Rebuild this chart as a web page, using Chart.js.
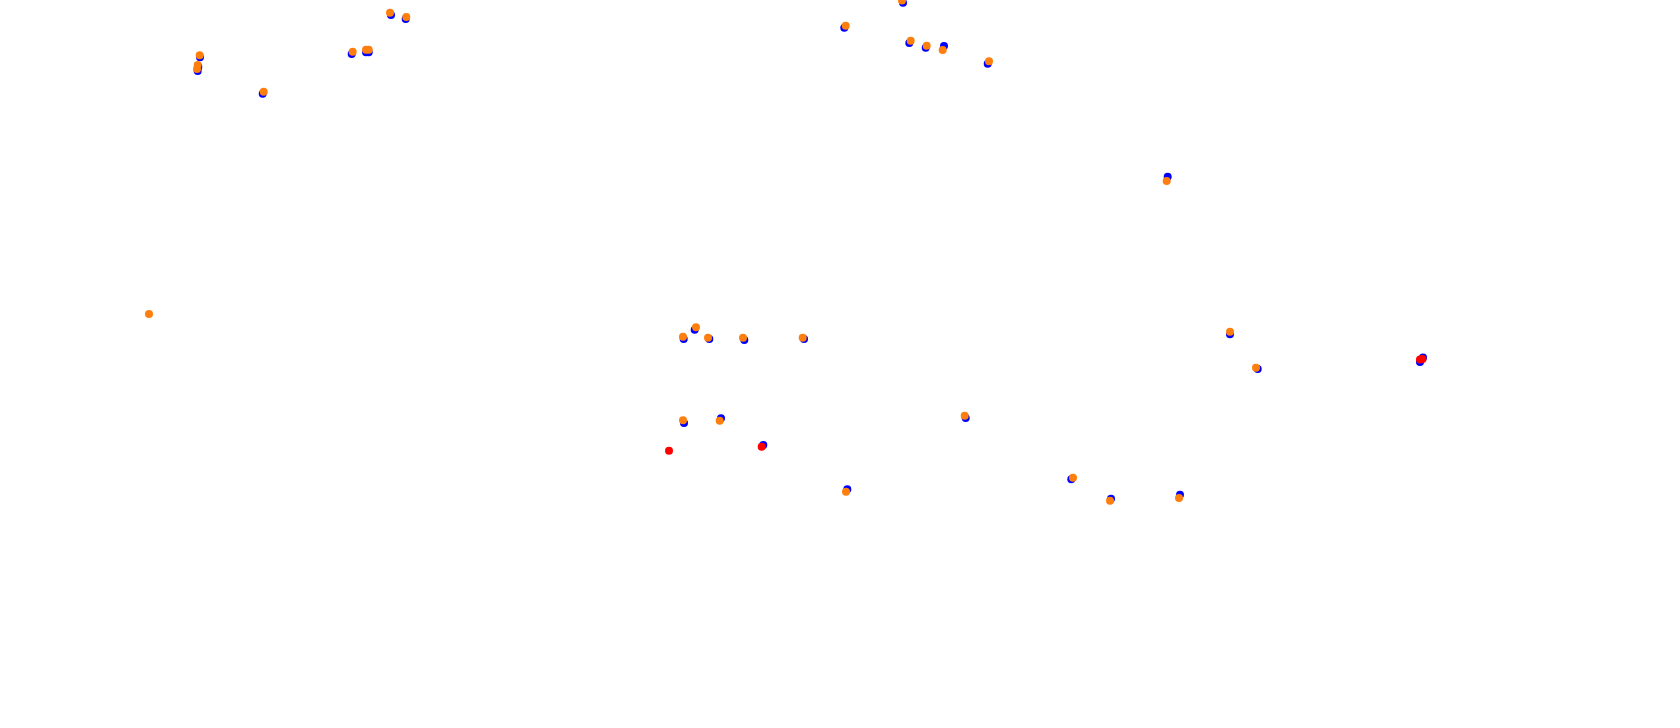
<!DOCTYPE html>
<html>
<head>
<meta charset="utf-8">
<script src="https://cdn.jsdelivr.net/npm/chart.js@4/dist/chart.umd.min.js"></script>
<style>
html,body{margin:0;padding:0;background:#fff;}
#wrap{width:1680px;height:728px;position:relative;}
</style>
</head>
<body>
<div id="wrap"><canvas id="c"></canvas></div>
<script>
const blueX = [200,198.3,197.7,262.7,351.7,366,368.7,391,405.7,903,844.3,909.3,925.7,944,987.7,683.7,694.7,709.3,744.3,804,684,721,763.3,1167.7,1230,1257.7,1423,1420,965.7,847.3,1071.3,1111,1180];
const blueY = [57.3,66.7,71,93.7,54,52.3,52.3,15,19,2.7,27.7,43,47.7,46,63.7,339,329.7,339,340,339,423,418.3,445,176.7,334.3,369,357.5,362,418,489.3,479.3,498.7,494.7];
const orangeX = [199.7,197.7,197,263.7,352.7,366,368.7,390,406.3,902,845.7,910.7,926.7,942.7,989,683,696,708,743,802.7,683,719.7,149,1166.7,1230,1256,964.7,846,1073,1110,1179];
const orangeY = [55.3,65,69,91.7,51.7,49.7,49.7,12.7,17,0.5,25.7,40.7,45.7,50,61.3,336.7,327.3,337.7,337.7,337.7,420.3,420.7,314,181,331.7,367.7,415.7,491.7,477.7,500.7,498];
const redX = [669,761.7,1420,1422.5];
const redY = [450.7,446.7,359.5,359];

const pts = (xs, ys) => xs.map((x, i) => ({x: x, y: ys[i]}));

new Chart(document.getElementById('c'), {
  type: 'scatter',
  data: {
    datasets: [
      {label: 'red', data: pts(redX, redY), backgroundColor: '#ff0000', borderColor: '#ff0000'},
      {label: 'orange', data: pts(orangeX, orangeY), backgroundColor: '#ff7f0e', borderColor: '#ff7f0e'},
      {label: 'blue', data: pts(blueX, blueY), backgroundColor: '#0000ff', borderColor: '#0000ff'}
    ]
  },
  options: {
    responsive: true,
    maintainAspectRatio: false,
    animation: false,
    layout: {padding: 0, autoPadding: false},
    elements: {point: {radius: 4, borderWidth: 0, hoverRadius: 4}},
    plugins: {legend: {display: false}, tooltip: {enabled: false}},
    scales: {
      x: {type: 'linear', display: false, min: 0, max: 1680},
      y: {type: 'linear', display: false, min: 0, max: 728, reverse: true}
    }
  }
});
</script>
</body>
</html>
